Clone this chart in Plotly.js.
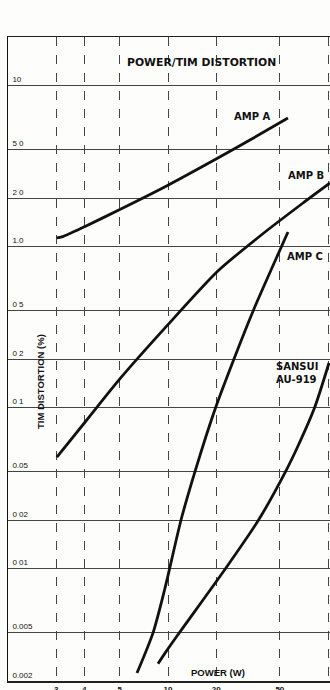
<!DOCTYPE html>
<html>
<head>
<meta charset="utf-8">
<script src="https://cdn.plot.ly/plotly-3.0.1.min.js"></script>
<style>
html,body{margin:0;padding:0;background:#fdfdfb;}
#chart{width:330px;height:690px;}
</style>
</head>
<body>
<div id="chart"></div>
<script>
// Power (W) vs TIM distortion (%)
const ampA_x = [2.02, 2.17, 3.03, 5.0, 10, 20.5, 32.5, 56.2];
const ampA_y = [0.565, 0.573, 0.666, 0.848, 1.2, 1.77, 2.29, 3.14];

const ampB_x = [2.02, 3.07, 5.0, 9.58, 20.5, 37.6, 69.8, 103];
const ampB_y = [0.0246, 0.0412, 0.0752, 0.156, 0.352, 0.581, 0.931, 1.24];

const ampC_x = [6.4, 8.06, 9.58, 12.06, 14.86, 19.8, 25.7, 34.2, 46.97, 56.2];
const ampC_y = [0.00112, 0.00199, 0.00378, 0.01, 0.0205, 0.0496, 0.0986, 0.201, 0.412, 0.615];

const sansui_x = [8.66, 9.58, 11.5, 22.55, 36.8, 55.0, 64.5, 82.3, 101.4];
const sansui_y = [0.00128, 0.00149, 0.00193, 0.00489, 0.01, 0.0205, 0.0284, 0.0496, 0.0944];

const xTickVals = [2, 3, 5, 10, 20, 50, 100];
const xTickText = ["3", "4", "5", "10", "20", "50", "100"];
const yTickVals = [10, 5, 2, 1, 0.5, 0.2, 0.1, 0.05, 0.02, 0.01, 0.005, 0.002, 0.001];
const yTickText = ["", "10", "5 0", "2 0", "1.0", "0 5", "0 2", "0 1", "0.05", "0 02", "0 01", "0.005", "0.002"];

const lineStyle = {color: '#111', width: 2.8, shape: 'spline', smoothing: 0.7};
const traces = [
  {x: ampA_x, y: ampA_y, name: 'AMP A'},
  {x: ampB_x, y: ampB_y, name: 'AMP B'},
  {x: ampC_x, y: ampC_y, name: 'AMP C'},
  {x: sansui_x, y: sansui_y, name: 'SANSUI AU-919'}
].map(t => Object.assign(t, {type: 'scatter', mode: 'lines', line: lineStyle, hoverinfo: 'skip'}));

const labelFont = {family: 'DejaVu Sans', size: 10, color: '#111', weight: 700};
const W = 322, H = 644, L = 8, T = 37;
function px(x){ return (x - L) / W; }
function py(y){ return (T + H - y) / H; }

const layout = {
  width: 330, height: 690,
  margin: {l: 8, r: 0, t: 37, b: 9, pad: 0},
  paper_bgcolor: '#fdfdfb', plot_bgcolor: '#fdfdfb',
  showlegend: false,
  xaxis: {
    type: 'log', range: [0, 2.0125],
    tickmode: 'array', tickvals: xTickVals, ticktext: xTickText,
    showgrid: true, gridcolor: '#444', gridwidth: 1, griddash: 'dash',
    showline: true, mirror: true, linecolor: '#222', linewidth: 1.5,
    ticks: '', ticklabelstandoff: 0,
    tickfont: {family: 'Liberation Sans', size: 8, color: '#111', weight: 700},
    zeroline: false, fixedrange: true
  },
  yaxis: {
    type: 'log', range: [-3, 1],
    tickmode: 'array', tickvals: yTickVals, ticktext: yTickText,
    showgrid: true, gridcolor: '#444', gridwidth: 1,
    showline: true, linecolor: '#111', linewidth: 1.5,
    ticks: '', ticklabelposition: 'inside', ticklabelshift: -6, ticklabelstandoff: 3,
    tickfont: {family: 'Liberation Sans', size: 8, color: '#111'},
    zeroline: false, fixedrange: true
  },
  annotations: [
    {text: 'POWER/TIM DISTORTION', xref: 'paper', yref: 'paper', x: px(201), y: py(62),
     showarrow: false, font: Object.assign({}, labelFont, {size: 10.8}), xanchor: 'center', yanchor: 'middle'},
    {text: 'AMP A', xref: 'paper', yref: 'paper', x: px(252), y: py(116),
     showarrow: false, font: labelFont, xanchor: 'center', yanchor: 'middle'},
    {text: 'AMP B', xref: 'paper', yref: 'paper', x: px(306), y: py(175),
     showarrow: false, font: labelFont, xanchor: 'center', yanchor: 'middle'},
    {text: 'AMP C', xref: 'paper', yref: 'paper', x: px(305), y: py(256),
     showarrow: false, font: labelFont, xanchor: 'center', yanchor: 'middle'},
    {text: 'SANSUI<br>AU-919', xref: 'paper', yref: 'paper', x: px(274), y: py(373),
     showarrow: false, font: labelFont, xanchor: 'left', yanchor: 'middle', align: 'left'},
    {text: 'TIM DISTORTION (%)', xref: 'paper', yref: 'paper', x: px(40), y: py(382),
     showarrow: false, textangle: -90,
     font: {family: 'Liberation Sans', size: 9.5, color: '#111', weight: 700},
     xanchor: 'center', yanchor: 'middle'},
    {text: 'POWER (W)', xref: 'paper', yref: 'paper', x: px(218), y: py(672),
     showarrow: false,
     font: {family: 'Liberation Sans', size: 9.5, color: '#111', weight: 700},
     xanchor: 'center', yanchor: 'middle'}
  ]
};

Plotly.newPlot('chart', traces, layout, {staticPlot: true, displayModeBar: false});
</script>
</body>
</html>
